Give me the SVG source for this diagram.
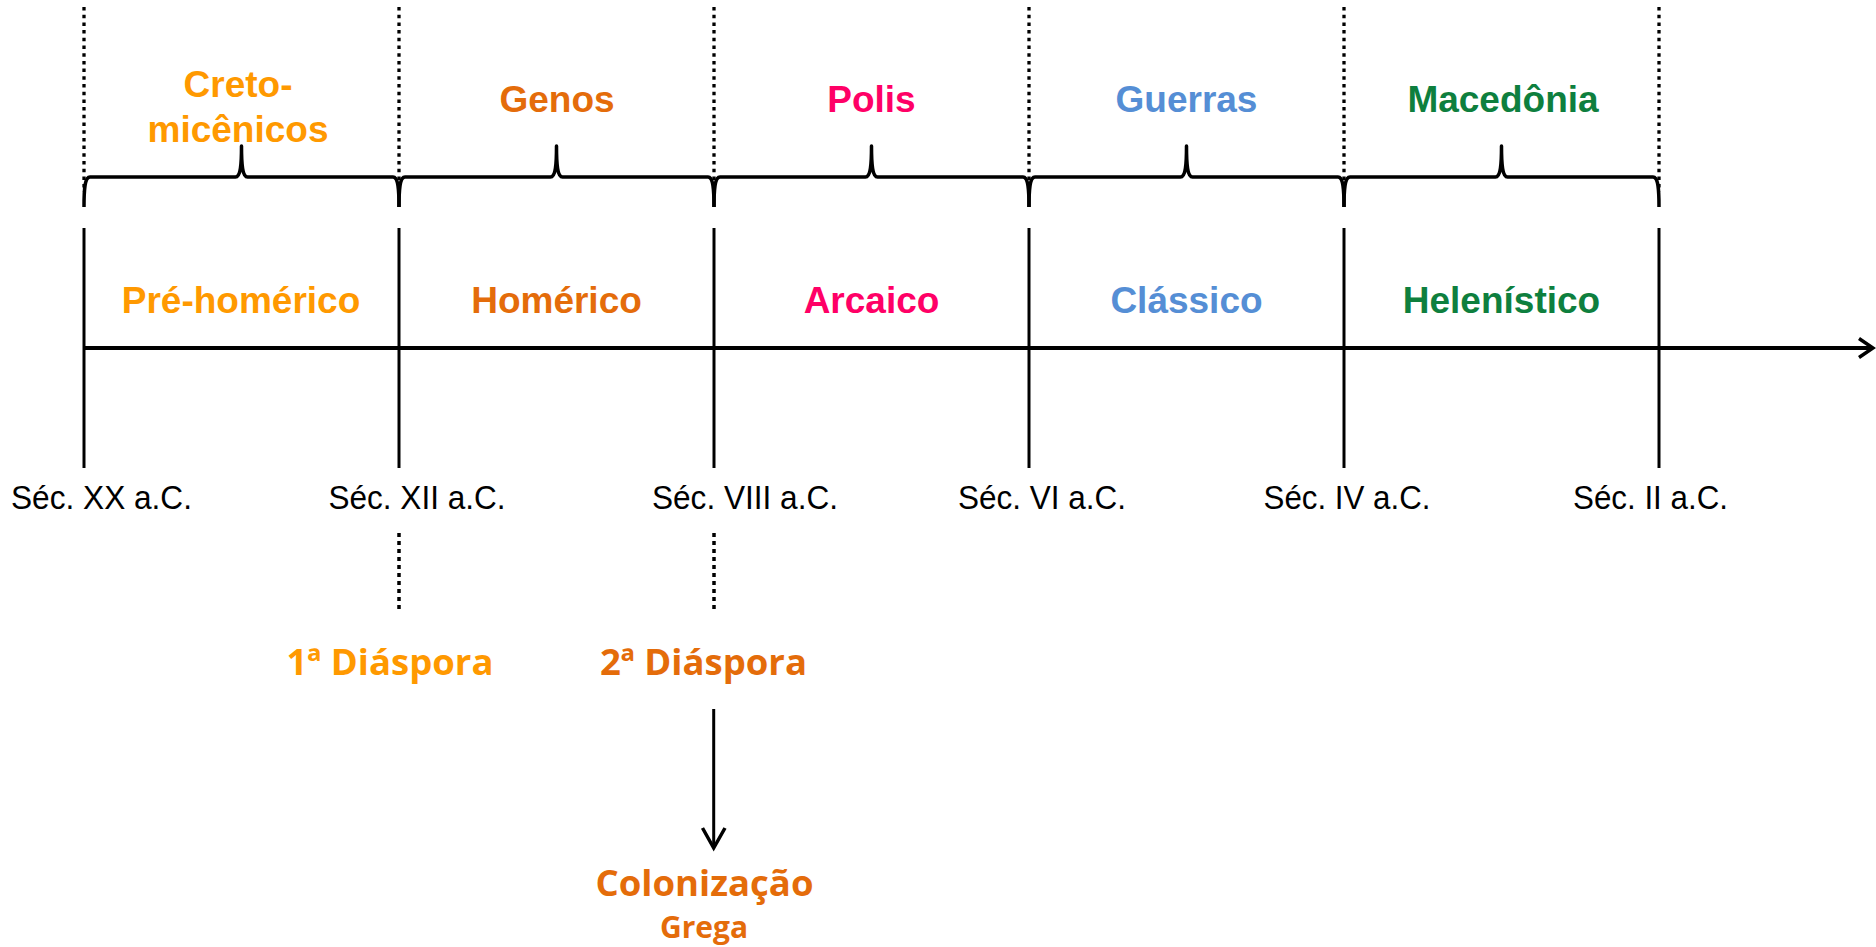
<svg xmlns="http://www.w3.org/2000/svg" width="1876" height="947" viewBox="0 0 1876 947">
  <style>
    .period{font-family:"Liberation Sans",Arial,sans-serif;font-weight:bold;font-size:37px;text-anchor:middle}
    .date{font-family:"Liberation Sans",Arial,sans-serif;font-size:33px;fill:#000}
    .event{font-family:"Open Sans","Liberation Sans",sans-serif;font-weight:bold;font-size:36.5px;text-anchor:middle}
    .c1{fill:#FF9900}.c2{fill:#E46C0A}.c3{fill:#FF0066}.c4{fill:#558ED5}.c5{fill:#0E7F3E}
    .solid{stroke:#000;stroke-width:3;fill:none}
    .dot{stroke:#000;stroke-width:3.3;stroke-dasharray:3.5 4.2;fill:none}
    .dot2{stroke:#000;stroke-width:3.5;stroke-dasharray:4 4;fill:none}
    .brace{stroke:#000;stroke-width:3.5;fill:none;stroke-linejoin:round}
  </style>
  <g id="connectors">
    <g id="top-dotted">
      <line class="dot" x1="84" y1="7" x2="84" y2="192"/>
      <line class="dot" x1="399" y1="7" x2="399" y2="180"/>
      <line class="dot" x1="714" y1="7" x2="714" y2="180"/>
      <line class="dot" x1="1029" y1="7" x2="1029" y2="180"/>
      <line class="dot" x1="1344" y1="7" x2="1344" y2="180"/>
      <line class="dot" x1="1659" y1="7" x2="1659" y2="192"/>
    </g>
    <g id="braces">
      <path class="brace" d="M84,207 C84,187 85,177 90,177 L235.5,177 C240.5,177 241.5,165 241.5,146 C241.5,165 242.5,177 247.5,177 L393,177 C398,177 399,187 399,207"/>
      <path class="brace" d="M399,207 C399,187 400,177 405,177 L550.5,177 C555.5,177 556.5,165 556.5,146 C556.5,165 557.5,177 562.5,177 L708,177 C713,177 714,187 714,207"/>
      <path class="brace" d="M714,207 C714,187 715,177 720,177 L865.5,177 C870.5,177 871.5,165 871.5,146 C871.5,165 872.5,177 877.5,177 L1023,177 C1028,177 1029,187 1029,207"/>
      <path class="brace" d="M1029,207 C1029,187 1030,177 1035,177 L1180.5,177 C1185.5,177 1186.5,165 1186.5,146 C1186.5,165 1187.5,177 1192.5,177 L1338,177 C1343,177 1344,187 1344,207"/>
      <path class="brace" d="M1344,207 C1344,187 1345,177 1350,177 L1495.5,177 C1500.5,177 1501.5,165 1501.5,146 C1501.5,165 1502.5,177 1507.5,177 L1653,177 C1658,177 1659,187 1659,207"/>
    </g>
    <g id="ticks">
      <line class="solid" x1="84" y1="228" x2="84" y2="468"/>
      <line class="solid" x1="399" y1="228" x2="399" y2="468"/>
      <line class="solid" x1="714" y1="228" x2="714" y2="468"/>
      <line class="solid" x1="1029" y1="228" x2="1029" y2="468"/>
      <line class="solid" x1="1344" y1="228" x2="1344" y2="468"/>
      <line class="solid" x1="1659" y1="228" x2="1659" y2="468"/>
    </g>
    <g id="axis">
      <line x1="84" y1="348" x2="1872" y2="348" stroke="#000" stroke-width="4"/>
      <path d="M1859,338.5 L1873,348 L1859,357.5" stroke="#000" stroke-width="3.5" fill="none"/>
    </g>
    <g id="bottom-dotted">
      <line class="dot2" x1="399" y1="533" x2="399" y2="609"/>
      <line class="dot2" x1="714" y1="533" x2="714" y2="609"/>
    </g>
    <g id="colonization-arrow">
      <line x1="713.7" y1="709" x2="713.7" y2="847" stroke="#000" stroke-width="3"/>
      <path d="M702.5,828 L713.7,848 L725,828" stroke="#000" stroke-width="3.5" fill="none"/>
    </g>
  </g>
  <g id="cretomicenicos"><text class="period c1" x="238" y="97">Creto-</text><text class="period c1" x="238" y="142">micênicos</text></g>
  <g id="genos"><text class="period c2" x="557" y="112">Genos</text></g>
  <g id="polis"><text class="period c3" x="871.5" y="112">Polis</text></g>
  <g id="guerras"><text class="period c4" x="1186.5" y="112">Guerras</text></g>
  <g id="macedonia"><text class="period c5" x="1503" y="112">Macedônia</text></g>
  <g id="pre-homerico"><text class="period c1" x="241" y="313">Pré-homérico</text></g>
  <g id="homerico"><text class="period c2" x="556.5" y="313">Homérico</text></g>
  <g id="arcaico"><text class="period c3" x="871.5" y="313">Arcaico</text></g>
  <g id="classico"><text class="period c4" x="1186.5" y="313">Clássico</text></g>
  <g id="helenistico"><text class="period c5" x="1501.5" y="313">Helenístico</text></g>
  <g id="dates">
    <text class="date" x="11" y="509" textLength="181" lengthAdjust="spacingAndGlyphs">Séc. XX a.C.</text>
    <text class="date" x="328.5" y="509" textLength="177" lengthAdjust="spacingAndGlyphs">Séc. XII a.C.</text>
    <text class="date" x="652" y="509" textLength="186" lengthAdjust="spacingAndGlyphs">Séc. VIII a.C.</text>
    <text class="date" x="958" y="509" textLength="168" lengthAdjust="spacingAndGlyphs">Séc. VI a.C.</text>
    <text class="date" x="1263.5" y="509" textLength="167" lengthAdjust="spacingAndGlyphs">Séc. IV a.C.</text>
    <text class="date" x="1573" y="509" textLength="155" lengthAdjust="spacingAndGlyphs">Séc. II a.C.</text>
  </g>
  <g id="diaspora1"><text class="event c1" x="390" y="675">1ª Diáspora</text></g>
  <g id="diaspora2"><text class="event c2" x="703.5" y="675">2ª Diáspora</text></g>
  <g id="colonizacao"><text class="event c2" x="704.5" y="896">Colonização</text><text class="event c2" x="704" y="938" style="font-size:30px">Grega</text></g>
</svg>
